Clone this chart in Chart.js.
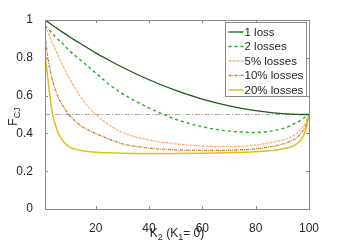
<!DOCTYPE html>
<html>
<head>
<meta charset="utf-8">
<script src="https://cdn.jsdelivr.net/npm/chart.js@4"></script>
<style>
  html, body { margin: 0; padding: 0; background: #fff; }
  #wrap { width: 342px; height: 249px; position: relative; }
</style>
</head>
<body>
<div id="wrap"><canvas id="chart" width="342" height="249"></canvas></div>
<script>
'use strict';

/* ── Data ──────────────────────────────────────────────────────── */
const k2Values = [1, 2, 3, 4, 5, 6, 7, 8, 10, 12, 15, 20, 25, 30, 40, 50, 60, 70, 80, 85, 90, 93, 95, 97, 98, 99, 100];

const oneLoss   = [1.00, 0.99, 0.98, 0.97, 0.96, 0.951, 0.941, 0.932, 0.913, 0.895, 0.869, 0.826, 0.787, 0.75, 0.684, 0.628, 0.582, 0.546, 0.52, 0.511, 0.505, 0.502, 0.501, 0.5, 0.5, 0.5, 0.5];
const twoLosses = [0.97, 0.955, 0.94, 0.925, 0.91, 0.895, 0.882, 0.87, 0.84, 0.815, 0.78, 0.72, 0.66, 0.61, 0.535, 0.475, 0.435, 0.412, 0.405, 0.41, 0.425, 0.44, 0.455, 0.47, 0.48, 0.49, 0.5];
const loss5     = [0.97, 0.94, 0.905, 0.87, 0.84, 0.81, 0.78, 0.75, 0.695, 0.645, 0.58, 0.50, 0.445, 0.405, 0.365, 0.345, 0.333, 0.33, 0.338, 0.35, 0.365, 0.38, 0.395, 0.42, 0.44, 0.465, 0.5];
const loss10    = [0.92, 0.81, 0.73, 0.67, 0.625, 0.59, 0.562, 0.54, 0.50, 0.47, 0.435, 0.40, 0.37, 0.345, 0.322, 0.313, 0.31, 0.311, 0.318, 0.328, 0.343, 0.358, 0.373, 0.40, 0.42, 0.45, 0.5];
const loss20    = [0.83, 0.70, 0.58, 0.49, 0.44, 0.40, 0.375, 0.355, 0.33, 0.318, 0.308, 0.30, 0.297, 0.295, 0.294, 0.294, 0.295, 0.298, 0.303, 0.308, 0.318, 0.328, 0.34, 0.365, 0.39, 0.43, 0.5];

const refLevel  = 0.5;
const seriesLabels = ['1 loss', '2 losses', '5% losses', '10% losses', '20% losses'];
const xTicks = [20, 40, 60, 80, 100];
const yTicks = [0, 0.2, 0.4, 0.6, 0.8, 1];

/* ── Styles ───────────────────────────────────────────────────── */
const styles = [
  { color: '#1d5a1d', width: 1.3, dash: [] },
  { color: '#1fae1f', width: 1.4, dash: [3, 3] },
  { color: '#ffb27f', width: 1.3, dash: [3, 1] },
  { color: '#c6862a', width: 1.3, dash: [3, 1, 1, 1] },
  { color: '#dcbf1e', width: 1.5, dash: [] },
];
const AXIS_COLOR = '#8a8a8a';
const TEXT_COLOR = '#262626';
const FONT = 'Liberation Sans, Arial, sans-serif';

function toPoints(ys) {
  return ys.map((y, i) => ({ x: k2Values[i], y }));
}

const allSeries = [oneLoss, twoLosses, loss5, loss10, loss20];
const datasets = allSeries.map((ys, i) => ({
  label: seriesLabels[i],
  data: toPoints(ys),
  borderColor: styles[i].color,
  borderWidth: styles[i].width,
  borderDash: styles[i].dash,
  pointRadius: 0,
  cubicInterpolationMode: 'monotone',
  fill: false,
}));
datasets.push({
  label: '_ref',
  data: [{ x: k2Values[0], y: refLevel }, { x: k2Values[k2Values.length - 1], y: refLevel }],
  borderColor: '#a8a8a8',
  borderWidth: 1,
  borderDash: [5, 2, 1, 2],
  pointRadius: 0,
  order: 10,
});

/* ── Frame, inward ticks, axis titles, legend ──────────────────── */
const framePlugin = {
  id: 'frame',
  afterDraw(chart) {
    const { ctx, chartArea: a, scales } = chart;
    ctx.save();
    ctx.strokeStyle = AXIS_COLOR;
    ctx.lineWidth = 1;
    ctx.strokeRect(Math.round(a.left) + 0.5, Math.round(a.top) + 0.5,
                   Math.round(a.right - a.left), Math.round(a.bottom - a.top));
    const tl = 3;
    ctx.beginPath();
    xTicks.forEach(v => {
      const x = Math.round(scales.x.getPixelForValue(v)) + 0.5;
      ctx.moveTo(x, a.bottom); ctx.lineTo(x, a.bottom - tl);
      ctx.moveTo(x, a.top);    ctx.lineTo(x, a.top + tl);
    });
    yTicks.forEach(v => {
      const y = Math.round(scales.y.getPixelForValue(v)) + 0.5;
      ctx.moveTo(a.left, y);  ctx.lineTo(a.left + tl, y);
      ctx.moveTo(a.right, y); ctx.lineTo(a.right - tl, y);
    });
    ctx.stroke();

    // axis titles with subscripts
    ctx.fillStyle = TEXT_COLOR;
    ctx.textBaseline = 'alphabetic';
    const big = '12px ' + FONT, small = '9px ' + FONT;
    const parts = [['K', big, 0], ['2', small, 3], [' (K', big, 0], ['1', small, 3], ['= 0)', big, 0]];
    let w = 0;
    parts.forEach(p => { ctx.font = p[1]; w += ctx.measureText(p[0]).width; });
    let x = (a.left + a.right) / 2 - w / 2;
    parts.forEach(p => { ctx.font = p[1]; ctx.fillText(p[0], x, 237 + p[2]); x += ctx.measureText(p[0]).width; });

    ctx.save();
    ctx.translate(17, (a.top + a.bottom) / 2 + 2);
    ctx.rotate(-Math.PI / 2);
    const yparts = [['F', big, 0], ['CJ', small, 3]];
    w = 0;
    yparts.forEach(p => { ctx.font = p[1]; w += ctx.measureText(p[0]).width; });
    x = -w / 2;
    yparts.forEach(p => { ctx.font = p[1]; ctx.fillText(p[0], x, p[2]); x += ctx.measureText(p[0]).width; });
    ctx.restore();

    // legend box
    const lx = 225.5, ly = 22.5, lw = 81, lh = 74;
    ctx.fillStyle = '#fff';
    ctx.fillRect(lx, ly, lw, lh);
    ctx.strokeStyle = AXIS_COLOR;
    ctx.strokeRect(lx, ly, lw, lh);
    ctx.font = '11.5px ' + FONT;
    ctx.textBaseline = 'middle';
    seriesLabels.forEach((lab, i) => {
      const yy = ly + 9.5 + i * 14.5;
      ctx.strokeStyle = styles[i].color;
      ctx.lineWidth = styles[i].width;
      ctx.setLineDash(styles[i].dash);
      ctx.beginPath(); ctx.moveTo(lx + 3, yy); ctx.lineTo(lx + 18, yy); ctx.stroke();
      ctx.setLineDash([]);
      ctx.fillStyle = TEXT_COLOR;
      ctx.fillText(lab, lx + 19, yy + 0.5);
    });
    ctx.restore();
  }
};

/* ── Chart ─────────────────────────────────────────────────────── */
new Chart(document.getElementById('chart'), {
  type: 'line',
  data: { datasets },
  options: {
    responsive: false,
    animation: false,
    layout: { padding: { top: 20, right: 33, left: 0, bottom: 0 } },
    plugins: { legend: { display: false }, tooltip: { enabled: false } },
    scales: {
      x: {
        type: 'linear', min: 1, max: 100,
        afterBuildTicks: s => { s.ticks = xTicks.map(v => ({ value: v })); },
        afterFit: s => { s.height = 40; },
        grid: { display: false },
        border: { display: false },
        ticks: { color: TEXT_COLOR, font: { family: FONT, size: 12 }, padding: 4, maxRotation: 0 },
      },
      y: {
        type: 'linear', min: 0, max: 1,
        afterBuildTicks: s => { s.ticks = yTicks.map(v => ({ value: v })); },
        afterFit: s => { s.width = 45; },
        grid: { display: false },
        border: { display: false },
        ticks: { color: TEXT_COLOR, font: { family: FONT, size: 12 }, padding: 4,
                 callback: v => String(Math.round(v * 10) / 10) },
      },
    },
  },
  plugins: [framePlugin],
});
</script>
</body>
</html>
